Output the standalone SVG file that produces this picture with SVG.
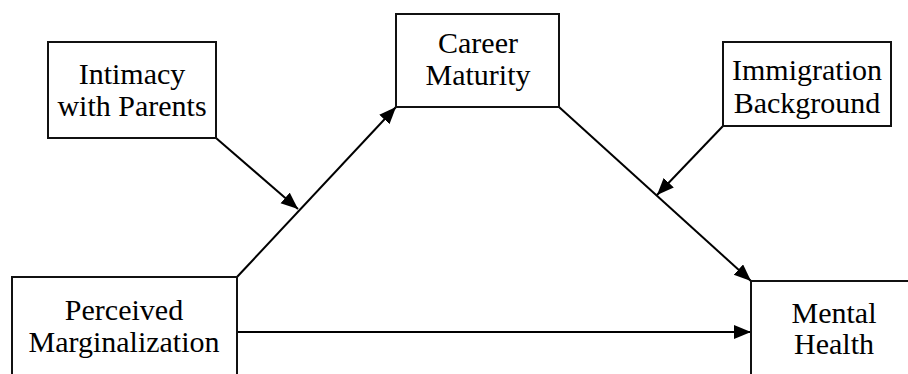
<svg xmlns="http://www.w3.org/2000/svg" width="908" height="374" viewBox="0 0 908 374">
<style>
.box{fill:#fff;stroke:#111;stroke-width:2}
.lbl{font-family:"Liberation Serif","Times New Roman",serif;font-size:30px;fill:#000;text-anchor:middle}
.con{stroke:#000;stroke-width:2;fill:none;marker-end:url(#ah)}
</style>
<defs>
<marker id="ah" markerUnits="userSpaceOnUse" markerWidth="19" markerHeight="15" refX="17" refY="7" orient="auto">
<path d="M0,0 L17,7 L0,14 z" fill="#000"/>
</marker>
</defs>
<rect width="908" height="374" fill="#fff"/>
<g id="connectors">
<line class="con" x1="237" y1="277" x2="396" y2="107"/>
<line class="con" x1="216" y1="138" x2="298" y2="209"/>
<line class="con" x1="559" y1="107" x2="751" y2="281"/>
<line class="con" x1="723" y1="126" x2="657" y2="195"/>
<line class="con" x1="237" y1="332" x2="751" y2="332"/>
</g>
<g id="perceived">
<rect class="box" x="12" y="277" width="225" height="110"/>
<text class="lbl" x="124" y="320">Perceived</text>
<text class="lbl" x="124" y="352">Marginalization</text>
</g>
<g id="mental">
<rect class="box" x="751" y="281" width="170" height="110"/>
<text class="lbl" x="834" y="323">Mental</text>
<text class="lbl" x="834" y="354">Health</text>
</g>
<g id="career">
<rect class="box" x="396" y="14" width="163" height="93"/>
<text class="lbl" x="478" y="53">Career</text>
<text class="lbl" x="478" y="85">Maturity</text>
</g>
<g id="intimacy">
<rect class="box" x="48" y="42" width="168" height="96"/>
<text class="lbl" x="132" y="84">Intimacy</text>
<text class="lbl" x="132" y="116">with Parents</text>
</g>
<g id="immigration">
<rect class="box" x="723" y="42" width="168" height="84"/>
<text class="lbl" x="807" y="80">Immigration</text>
<text class="lbl" x="807" y="113">Background</text>
</g>
</svg>
